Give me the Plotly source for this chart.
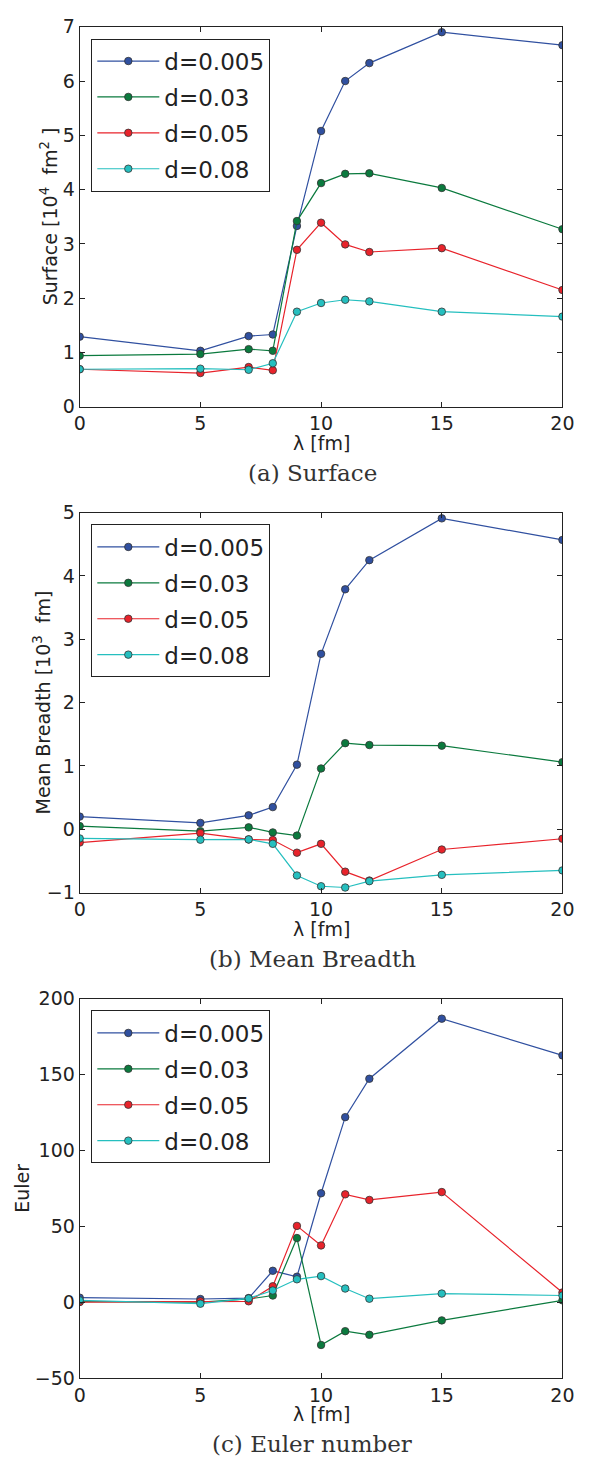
import plotly.graph_objects as go

W, H = 589, 1467

lam = [0, 5, 7, 8, 9, 10, 11, 12, 15, 20]
series_names = ["d=0.005", "d=0.03", "d=0.05", "d=0.08"]
colors = ["#3050a0", "#0b7a3e", "#e8232b", "#25bfbf"]

surface_d005 = [1.29, 1.03, 1.30, 1.33, 3.33, 5.08, 6.00, 6.33, 6.90, 6.66]
surface_d03 = [0.94, 0.97, 1.06, 1.03, 3.42, 4.12, 4.29, 4.30, 4.03, 3.27]
surface_d05 = [0.69, 0.62, 0.73, 0.67, 2.89, 3.39, 2.99, 2.85, 2.92, 2.15]
surface_d08 = [0.69, 0.70, 0.68, 0.80, 1.75, 1.91, 1.97, 1.94, 1.75, 1.66]

breadth_d005 = [0.20, 0.10, 0.22, 0.35, 1.02, 2.77, 3.79, 4.25, 4.91, 4.57]
breadth_d03 = [0.05, -0.03, 0.03, -0.05, -0.10, 0.96, 1.36, 1.33, 1.32, 1.06]
breadth_d05 = [-0.21, -0.06, -0.16, -0.17, -0.37, -0.23, -0.67, -0.81, -0.32, -0.15]
breadth_d08 = [-0.145, -0.165, -0.16, -0.23, -0.73, -0.90, -0.92, -0.82, -0.72, -0.65]

euler_d005 = [2.9, 2.0, 2.6, 20.6, 16.7, 71.7, 121.9, 147.2, 186.8, 162.6]
euler_d03 = [0.3, 0.0, 2.0, 4.3, 42.2, -28.3, -19.2, -21.6, -12.1, 1.1]
euler_d05 = [0.0, 0.5, 0.5, 10.4, 50.2, 37.3, 71.0, 67.3, 72.5, 6.3]
euler_d08 = [1.1, -1.1, 2.4, 7.6, 15.0, 17.1, 8.9, 2.2, 5.6, 4.3]

panels = [
    dict(data=[surface_d005, surface_d03, surface_d05, surface_d08],
         yrange=[0, 7], dtick=1, ytitle="Surface [10<sup>4</sup>  fm<sup>2</sup> ]",
         caption="(a) Surface", top=16, bottom=401.7, ytx=44),
    dict(data=[breadth_d005, breadth_d03, breadth_d05, breadth_d08],
         yrange=[-1, 5], dtick=1, ytitle="Mean Breadth [10<sup>3</sup>  fm]",
         caption="(b) Mean Breadth", top=509.3, bottom=895, ytx=37),
    dict(data=[euler_d005, euler_d03, euler_d05, euler_d08],
         yrange=[-50, 200], dtick=50, ytitle="Euler",
         caption="(c) Euler number", top=1002.7, bottom=1387.7, ytx=17),
]

x0px, x1px = 76, 574
fig = go.Figure()
annotations = []
layout = dict(
    width=W, height=H, margin=dict(l=0, r=0, t=0, b=0),
    paper_bgcolor="white", plot_bgcolor="white",
    font=dict(family="DejaVu Sans", color="#222222", size=19),
    showlegend=True,
)

tick_font = dict(family="DejaVu Sans", size=19, color="#222222")

for i, p in enumerate(panels):
    k = "" if i == 0 else str(i + 1)
    legname = "legend" if i == 0 else f"legend{i+1}"
    for j, ys in enumerate(p["data"]):
        fig.add_trace(go.Scatter(
            x=lam, y=ys, mode="lines+markers", name=series_names[j],
            xaxis="x" + k, yaxis="y" + k, legend=legname,
            legendgroup=f"g{i}_{j}",
            line=dict(color=colors[j], width=1.2),
            marker=dict(color=colors[j], size=7.5, line=dict(color="#333333", width=0.8)),
            cliponaxis=True,
        ))
    ydom = [1 - p["bottom"] / H, 1 - p["top"] / H]
    layout["xaxis" + k] = dict(
        domain=[x0px / W, x1px / W], range=[0, 20], anchor="y" + k,
        tickvals=[0, 5, 10, 15, 20], ticks="inside", ticklen=5, tickcolor="#222",
        showline=True, linecolor="#222", linewidth=1, mirror="ticks",
        showgrid=False, zeroline=False, tickfont=tick_font,
    )
    layout["yaxis" + k] = dict(
        domain=ydom, range=p["yrange"], anchor="x" + k, dtick=p["dtick"],
        ticks="inside", ticklen=5, tickcolor="#222",
        showline=True, linecolor="#222", linewidth=1, mirror="ticks",
        showgrid=False, zeroline=False, tickfont=tick_font,
    )
    layout[legname] = dict(
        x=88 / W, y=1 - (p["top"] + 12) / H, xanchor="left", yanchor="top",
        bordercolor="#222", borderwidth=1, bgcolor="white",
        font=dict(family="DejaVu Sans", size=23, color="#222"),
        tracegroupgap=3, itemwidth=62,
    )
    annotations.append(dict(
        text="λ [fm]", x=(x0px + x1px) / 2 / W, y=1 - (p["bottom"] + 37) / H,
        xref="paper", yref="paper", showarrow=False, xanchor="center", yanchor="middle",
        font=dict(family="DejaVu Sans", size=19, color="#222"),
    ))
    annotations.append(dict(
        text=p["caption"], x=316 / W, y=1 - (p["bottom"] + 67) / H,
        xref="paper", yref="paper", showarrow=False, xanchor="center", yanchor="middle",
        font=dict(family="DejaVu Serif", size=23, color="#333"),
    ))
    annotations.append(dict(
        text=p["ytitle"], x=p["ytx"] / W, y=1 - (p["top"] + p["bottom"]) / 2 / H,
        xref="paper", yref="paper", showarrow=False, xanchor="center", yanchor="middle",
        textangle=-90, font=dict(family="DejaVu Sans", size=19, color="#222"),
    ))

layout["annotations"] = annotations
fig.update_layout(**layout)
fig.write_html(
    "out.html",
    config={"displayModeBar": False},
    post_script="document.body.style.margin='0';document.body.style.overflow='hidden';",
)
